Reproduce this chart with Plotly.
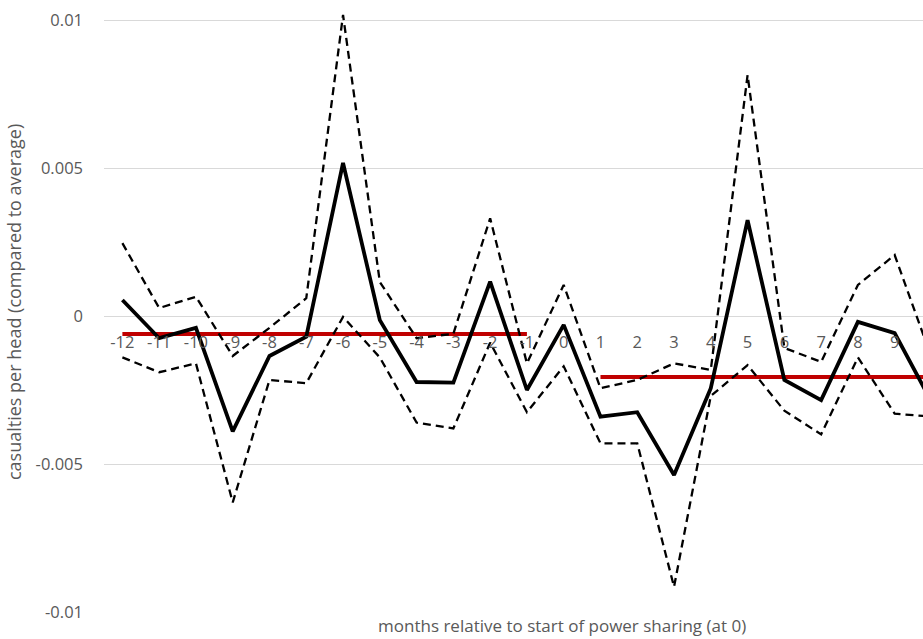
import plotly.graph_objects as go

months = list(range(-12, 11))
estimate = [0.00054, -0.00075, -0.0004, -0.0039, -0.00135, -0.0007, 0.00517, -0.00014,
            -0.00223, -0.00225, 0.00116, -0.0025, -0.0003, -0.0034, -0.00325, -0.00537,
            -0.00244, 0.00324, -0.00216, -0.00284, -0.0002, -0.00058, -0.0029]
upper = [0.00246, 0.00027, 0.00065, -0.00135, -0.0004, 0.0006, 0.01017, 0.00115,
         -0.00075, -0.0006, 0.0033, -0.0016, 0.00105, -0.00244, -0.00216, -0.0016,
         -0.00182, 0.00814, -0.00108, -0.00155, 0.00105, 0.00206, -0.0014]
lower = [-0.0014, -0.0019, -0.0016, -0.0063, -0.00216, -0.00227, -0.00003, -0.0014,
         -0.0036, -0.0038, -0.0009, -0.00325, -0.0017, -0.0043, -0.0043, -0.00915,
         -0.0027, -0.00166, -0.0032, -0.004, -0.0014, -0.0033, -0.0034]
before_x = [-12, -1]
before_mean = [-0.00061, -0.00061]
after_x = [1, 12]
after_mean = [-0.00206, -0.00206]

x_tick_vals = list(range(-12, 13))
x_tick_text = [str(v) for v in x_tick_vals]
y_tick_vals = [0.01, 0.005, 0, -0.005, -0.01]
y_tick_text = ["0.01", "0.005", "0", "-0.005", "-0.01"]

GRAY = "#595959"
FONT = "Open Sans"

fig = go.Figure()
fig.add_trace(go.Scatter(x=before_x, y=before_mean, mode="lines",
                         line=dict(color="#C00000", width=4), hoverinfo="skip"))
fig.add_trace(go.Scatter(x=after_x, y=after_mean, mode="lines",
                         line=dict(color="#C00000", width=4), hoverinfo="skip"))
fig.add_trace(go.Scatter(x=months, y=upper, mode="lines",
                         line=dict(color="black", width=2.3, dash="8px,5px")))
fig.add_trace(go.Scatter(x=months, y=lower, mode="lines",
                         line=dict(color="black", width=2.3, dash="8px,5px")))
fig.add_trace(go.Scatter(x=months, y=estimate, mode="lines",
                         line=dict(color="black", width=3.8)))

ymin, ymax = -0.01, 0.010676
fig.update_layout(
    width=923, height=639,
    margin=dict(l=104, r=0, t=0, b=27),
    plot_bgcolor="white", paper_bgcolor="white",
    showlegend=False,
    font=dict(family=FONT, color=GRAY, size=16),
    xaxis=dict(range=[-12.5, 9.77], tickvals=x_tick_vals, ticktext=x_tick_text,
               showgrid=False, zeroline=False, showline=False, ticks="",
               anchor="free", position=(0 - ymin) / (ymax - ymin),
               ticklabelstandoff=14,
               tickfont=dict(family=FONT, size=16.5, color=GRAY)),
    yaxis=dict(range=[ymin, ymax], tickvals=y_tick_vals, ticktext=y_tick_text,
               showgrid=True, gridcolor="#D9D9D9", gridwidth=1,
               zeroline=False, showline=False, ticks="",
               ticklabelstandoff=20,
               tickfont=dict(family=FONT, size=16.5, color=GRAY)),
    annotations=[
        dict(text="months relative to start of power sharing (at 0)",
             xref="paper", yref="paper", x=(562 - 104) / 819, y=0,
             xanchor="center", yanchor="top", yshift=0, showarrow=False,
             font=dict(family=FONT, size=17, color=GRAY)),
        dict(text="casualties per head (compared to average)",
             xref="paper", yref="paper", x=0, y=(612 - 302) / 612,
             xanchor="center", yanchor="middle", xshift=-90, textangle=-90,
             showarrow=False, font=dict(family=FONT, size=18, color=GRAY)),
    ],
)

fig.write_html("out.html", config={"displayModeBar": False},
               post_script="document.body.style.margin='0';")
